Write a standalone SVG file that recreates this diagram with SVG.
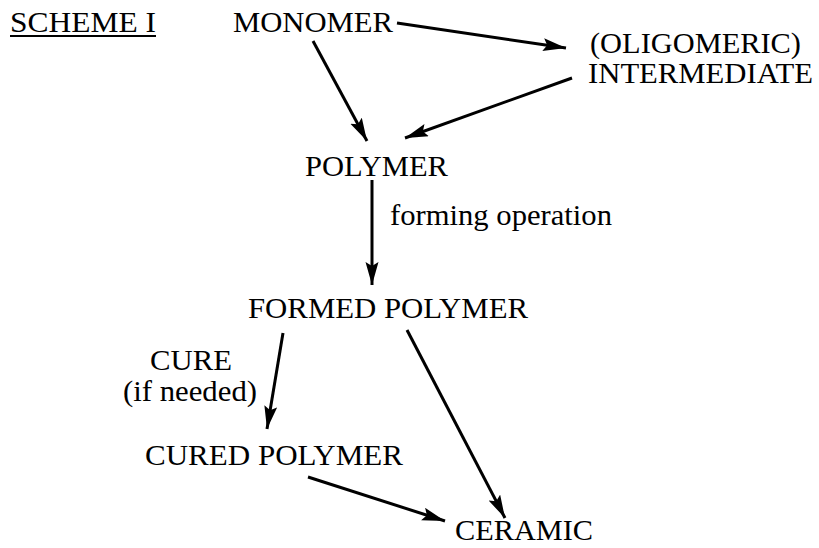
<svg xmlns="http://www.w3.org/2000/svg" width="819" height="548" viewBox="0 0 819 548">
<style>
text{font-family:"Liberation Serif","Times New Roman",serif;font-size:30px;fill:#000}
.lbl{font-size:30px}
.c line{stroke:#000;stroke-width:3;fill:none}
</style>
<defs>
<marker id="ah" markerUnits="userSpaceOnUse" markerWidth="26" markerHeight="14" refX="23" refY="6.5" orient="auto">
<path d="M0,0 L23,6.5 L0,13 L4,6.5 Z" fill="#000"/>
</marker>
</defs>
<rect width="819" height="548" fill="#fff"/>
<g id="title"><text x="10" y="32" textLength="146" lengthAdjust="spacingAndGlyphs">SCHEME I</text><line x1="10" y1="36" x2="156" y2="36" stroke="#000" stroke-width="2"/></g>
<g id="monomer"><text x="233" y="32" textLength="160" lengthAdjust="spacingAndGlyphs">MONOMER</text></g>
<g id="intermediate"><text x="590" y="53" textLength="211" lengthAdjust="spacingAndGlyphs">(OLIGOMERIC)</text><text x="588" y="83" textLength="225" lengthAdjust="spacingAndGlyphs">INTERMEDIATE</text></g>
<g id="polymer"><text x="305" y="176" textLength="143" lengthAdjust="spacingAndGlyphs">POLYMER</text></g>
<g id="formed"><text x="248" y="318" textLength="280" lengthAdjust="spacingAndGlyphs">FORMED POLYMER</text></g>
<g id="cured"><text x="145" y="465" textLength="258" lengthAdjust="spacingAndGlyphs">CURED POLYMER</text></g>
<g id="ceramic"><text x="455" y="540" textLength="138" lengthAdjust="spacingAndGlyphs">CERAMIC</text></g>
<g id="labels"><text class="lbl" x="390" y="225" textLength="222" lengthAdjust="spacingAndGlyphs">forming operation</text><text class="lbl" x="150" y="370" textLength="82" lengthAdjust="spacingAndGlyphs">CURE</text><text class="lbl" x="123" y="401" textLength="134" lengthAdjust="spacingAndGlyphs">(if needed)</text></g>
<g class="c" id="connectors">
<line x1="313" y1="41" x2="367" y2="141" marker-end="url(#ah)"/>
<line x1="397" y1="23" x2="566" y2="48" marker-end="url(#ah)"/>
<line x1="572" y1="78" x2="405" y2="138" marker-end="url(#ah)"/>
<line x1="372" y1="180" x2="372" y2="285" marker-end="url(#ah)"/>
<line x1="283" y1="333" x2="267" y2="429" marker-end="url(#ah)"/>
<line x1="407" y1="330" x2="505" y2="518" marker-end="url(#ah)"/>
<line x1="308" y1="477" x2="445" y2="521" marker-end="url(#ah)"/>
</g>
</svg>
